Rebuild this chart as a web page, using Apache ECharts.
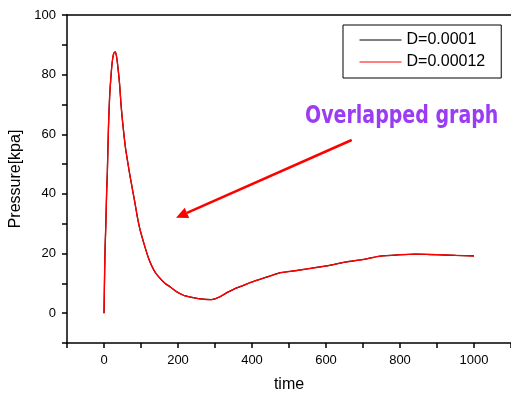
<!DOCTYPE html>
<html>
<head>
<meta charset="utf-8">
<script src="https://cdn.jsdelivr.net/npm/echarts@6/dist/echarts.min.js"></script>
<style>
html,body{margin:0;padding:0;background:#fff;}
#c{width:511px;height:397px;}
</style>
</head>
<body>
<div id="c"></div>
<script>
// time values (x)
const timeVals = [0,1,2,3,5,7,9,12,15,18,22,26,30,34,38,42,46,50,58,65,70,78,83,90,95,100,110,120,130,140,152,165,179,195,215,242,260,275,290,300,315,332,350,370,394,420,450,475,520,583,620,655,700,744,800,843,900,950,1000];
// pressure, D=0.0001
const pressureD1 = [0,8,16,22,30,40,47,62,72,78,84,87,87.6,86,82,77,70,64.5,55.5,50,46.2,40.8,37.4,32.4,29.3,26.8,22.5,18.6,15.6,13.4,11.6,10,8.8,7.3,6,5.2,4.8,4.6,4.55,4.8,5.6,6.9,8,9,10.2,11.3,12.5,13.5,14.3,15.5,16.3,17.2,18,19.1,19.6,19.8,19.6,19.4,19.2];
// pressure, D=0.00012 (overlaps D=0.0001)
const pressureD2 = [0,8,16,22,30,40,47,62,72,78,84,87,87.6,86,82,77,70,64.5,55.5,50,46.2,40.8,37.4,32.4,29.3,26.8,22.5,18.6,15.6,13.4,11.6,10,8.8,7.3,6,5.2,4.8,4.6,4.55,4.8,5.6,6.9,8,9,10.2,11.3,12.5,13.5,14.3,15.5,16.3,17.2,18,19.1,19.6,19.8,19.6,19.4,19.2];
const seriesNames = ['D=0.0001','D=0.00012'];
const xTickLabels = [0,200,400,600,800,1000];
const yTickLabels = [0,20,40,60,80,100];
const annotationText = 'Overlapped graph';

const font = '"Liberation Sans", Arial, Helvetica, sans-serif';
const d1 = timeVals.map((t,i)=>[t,pressureD1[i]]);
const d2 = timeVals.map((t,i)=>[t,pressureD2[i]]);

// arrow geometry (annotation)
const tail = [351.7,140], tip = [176,217.7];
const dx = tip[0]-tail[0], dy = tip[1]-tail[1], L = Math.hypot(dx,dy);
const ux = dx/L, uy = dy/L, hl = 12, hw = 5.5;
const bc = [tip[0]-ux*hl, tip[1]-uy*hl];
const px = -uy, py = ux;

const chart = echarts.init(document.getElementById('c'), null, {renderer:'canvas'});
chart.setOption({
  animation:false,
  backgroundColor:'#fff',
  grid:{left:67, top:15, right:0, bottom:54, containLabel:false, outerBoundsMode:'none'},
  legend:{
    orient:'vertical', left:343, top:25,
    data:seriesNames,
    borderColor:'#000', borderWidth:1, backgroundColor:'#fff', borderRadius:0,
    padding:[7,16,8,16], itemGap:6, itemWidth:42, itemHeight:14,
    textStyle:{fontFamily:font, fontSize:16, color:'#000', padding:[0,0,0,0]},
    itemStyle:{opacity:0},
    lineStyle:{width:1}
  },
  xAxis:[{
    type:'value', min:-100, max:1100, interval:100,
    name:'time', nameLocation:'middle', nameGap:34,
    nameTextStyle:{fontFamily:font, fontSize:16, color:'#000'},
    splitLine:{show:false},
    axisLine:{onZero:false, lineStyle:{color:'#000', width:1.5}},
    axisTick:{length:5, lineStyle:{color:'#000', width:1.5}},
    axisLabel:{fontFamily:font, fontSize:13, color:'#000', margin:11,
      formatter:v=> xTickLabels.indexOf(v)>=0 ? String(v) : ''}
  },{
    type:'value', position:'top', min:-100, max:1100,
    axisLine:{show:true, onZero:false, lineStyle:{color:'#000', width:1.5}},
    axisTick:{show:false}, axisLabel:{show:false}, splitLine:{show:false}
  }],
  yAxis:{
    type:'value', min:-10, max:100, interval:10,
    name:'Pressure[kpa]', nameLocation:'middle', nameGap:42, nameRotate:90,
    nameTextStyle:{fontFamily:font, fontSize:16, color:'#000'},
    splitLine:{show:false},
    axisLine:{show:true, onZero:false, lineStyle:{color:'#000', width:1.5}},
    axisTick:{show:true, length:5, lineStyle:{color:'#000', width:1.5}},
    axisLabel:{fontFamily:font, fontSize:13, color:'#000', margin:11,
      formatter:v=> yTickLabels.indexOf(v)>=0 ? String(v) : ''}
  },
  series:[
    {name:seriesNames[0], type:'line', data:d1, symbol:'none', smooth:0.25,
     lineStyle:{color:'#000', width:1.2}, itemStyle:{color:'#000'}},
    {name:seriesNames[1], type:'line', data:d2, symbol:'none', smooth:0.25,
     lineStyle:{color:'#ff0000', width:1.4}, itemStyle:{color:'#ff0000'}}
  ],
  graphic:[
    {type:'text', x:305, y:105, scaleX:0.88, z:100,
     style:{text:annotationText, fill:'#9b3cf5', font:'bold 24px "DejaVu Sans Condensed", "DejaVu Sans", sans-serif'}},
    {type:'line', z:100, shape:{x1:tail[0], y1:tail[1], x2:bc[0], y2:bc[1]},
     style:{stroke:'#ff0000', lineWidth:2.5}},
    {type:'polygon', z:100, shape:{points:[tip,[bc[0]+px*hw, bc[1]+py*hw],[bc[0]-px*hw, bc[1]-py*hw]]},
     style:{fill:'#ff0000'}}
  ]
});
</script>
</body>
</html>
